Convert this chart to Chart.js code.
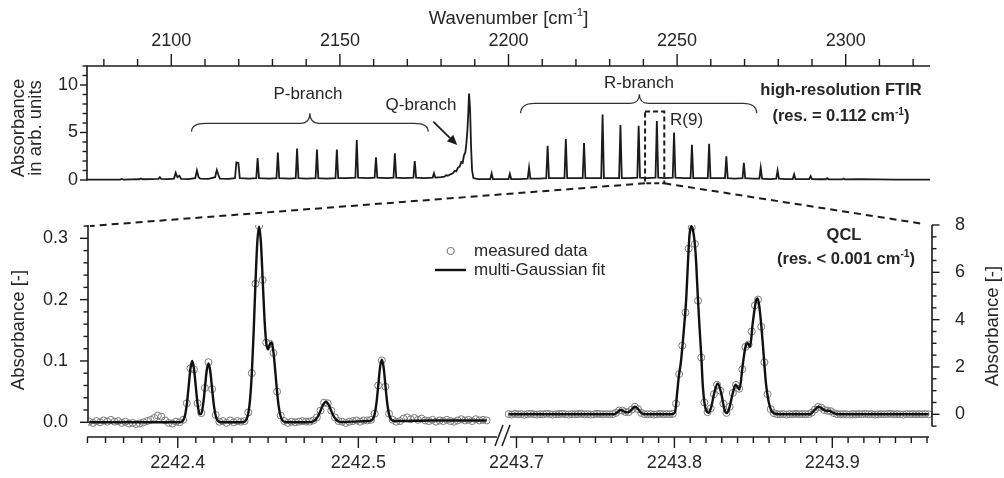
<!DOCTYPE html>
<html><head><meta charset="utf-8">
<script src="https://cdn.jsdelivr.net/npm/chart.js@4.4.1/dist/chart.umd.min.js"></script>
<style>
html,body{margin:0;padding:0;background:#fff;}
#wrap{position:relative;width:1004px;height:478px;overflow:hidden;background:#fff;}
#wrap canvas{position:absolute;left:0;top:0;}
</style></head><body>
<div id="wrap">
<canvas id="cTop" width="1004" height="478"></canvas>
<canvas id="cLeft" width="1004" height="478"></canvas>
<canvas id="cRight" width="1004" height="478"></canvas>
</div>
<script>
const FONT = "'Liberation Sans', Arial, Helvetica, sans-serif";
const INK = '#1b1b1b';
const TXT = '#262626';

// ---------- FTIR spectrum [wavenumber cm-1, absorbance arb. units] ----------
const ftirSpectrum = [
[2075,0.05],[2080,0.05],[2084.8,0.05],[2085.3,0.12],[2085.8,0.05],[2088,0.06],[2090.5,0.08],[2091,0.17],[2091.5,0.08],
[2094,0.1],[2096.2,0.12],[2096.6,0.3],[2097.0,0.12],[2099,0.1],[2100.8,0.15],[2101.3,0.75],[2101.8,0.3],[2102.4,0.45],[2102.9,0.12],
[2105,0.1],[2107.1,0.2],[2107.6,1.0],[2108.1,0.3],[2108.6,0.15],[2111,0.12],[2113.0,0.3],[2113.5,1.05],[2113.9,0.6],[2114.4,0.15],
[2117,0.12],[2118.9,0.2],[2119.3,1.85],[2119.9,1.8],[2120.3,0.2],[2123,0.15],[2125.2,0.2],[2125.6,2.3],[2126.0,0.2],
[2129,0.15],[2131.2,0.2],[2131.6,2.9],[2132.0,0.2],[2135,0.15],[2136.9,0.2],[2137.3,3.3],[2137.7,0.2],[2140,0.15],
[2142.8,0.2],[2143.2,3.2],[2143.6,0.2],[2146,0.15],[2148.7,0.2],[2149.1,3.2],[2149.5,0.2],[2152,0.2],[2154.6,0.25],[2155.0,4.2],[2155.4,0.25],
[2158,0.2],[2160.3,0.25],[2160.7,2.4],[2161.1,0.25],[2164,0.2],[2165.9,0.25],[2166.3,2.8],[2166.7,0.25],[2169,0.2],
[2171.8,0.25],[2172.2,2.0],[2172.6,0.25],[2175,0.2],[2177.5,0.25],[2177.9,0.7],[2178.3,0.25],
[2180,0.3],[2181,0.35],[2181.5,0.5],[2182,0.45],[2182.8,0.6],[2183.5,0.7],[2184,0.95],[2184.5,0.9],[2185,1.3],[2185.5,1.4],
[2186,1.9],[2186.4,1.8],[2186.8,2.6],[2187.2,2.9],[2187.5,3.8],[2187.8,5.2],[2188.0,6.5],[2188.3,9.1],[2188.6,7.5],[2188.9,3.5],[2189.2,1.0],[2189.6,0.2],
[2191,0.1],[2194.6,0.1],[2195.0,0.7],[2195.4,0.1],[2198,0.1],[2200.0,0.1],[2200.4,0.65],[2200.8,0.1],[2203,0.1],
[2205.7,0.15],[2206.1,1.3],[2206.5,0.15],[2209,0.15],[2211.2,0.2],[2211.6,3.6],[2212.0,0.2],[2214.5,0.2],
[2216.6,0.2],[2217.0,4.3],[2217.4,0.2],[2220,0.2],[2222.0,0.2],[2222.4,3.9],[2222.8,0.2],[2225,0.2],
[2227.5,0.2],[2227.9,6.9],[2228.3,0.2],[2230.5,0.2],[2232.8,0.2],[2233.2,5.8],[2233.6,0.2],[2236,0.2],
[2238.2,0.25],[2238.6,5.7],[2239.0,0.25],[2241,0.2],[2243.6,0.25],[2244.0,6.2],[2244.4,0.25],[2246.5,0.2],
[2248.7,0.25],[2249.1,5.0],[2249.5,0.25],[2252,0.2],[2254.0,0.2],[2254.4,3.7],[2254.8,0.2],[2257,0.2],
[2259.1,0.2],[2259.5,3.8],[2259.9,0.2],[2262,0.2],[2264.2,0.2],[2264.6,2.5],[2265.0,0.2],[2267,0.15],
[2269.4,0.2],[2269.8,1.8],[2270.2,0.2],[2272.5,0.15],[2274.4,0.15],[2274.8,1.3],[2275.2,0.15],[2277.5,0.1],
[2279.4,0.15],[2279.8,1.0],[2280.2,0.15],[2282.5,0.1],[2284.3,0.1],[2284.7,0.6],[2285.1,0.1],[2287.5,0.1],
[2289.2,0.1],[2289.6,0.4],[2290.0,0.1],[2292,0.08],[2294.1,0.08],[2294.5,0.2],[2294.9,0.08],[2297,0.06],
[2299.0,0.06],[2299.4,0.15],[2299.8,0.06],[2304,0.1],[2309,0.06],[2315,0.05],[2320,0.04],[2325,0.04]
];
const topMajorTicks = [2100,2150,2200,2250,2300];
const topMinorTicks = [2080,2090,2110,2120,2130,2140,2160,2170,2180,2190,2210,2220,2230,2240,2260,2270,2280,2290,2310,2320];
const topYMajor = [0,5,10];
const topYMinor = [1,2,3,4,6,7,8,9,11,12];

// annotation anchors in FTIR data units [wavenumber, absorbance]
const pBrace = [2106.0, 2141.1, 2176.2];   // left, cusp, right
const pBraceY = [5.08, 5.97, 7.02];        // end, middle, cusp
const rBrace = [2203.6, 2238.8, 2273.6];
const rBraceY = [7.02, 8.07, 9.02];
const qArrow = [[2177.7, 6.14], [2184.8, 3.68]];
const r9Box = [[2240.5, -0.35], [2246.2, 7.2]];

// ---------- QCL, left segment [wavenumber, absorbance] ----------
const qclLeftMeasured = [
[2242.351,0.001],[2242.353,-0.001],[2242.355,0.002],[2242.357,0.000],[2242.359,0.003],[2242.361,0.001],[2242.363,0.004],[2242.365,0.001],
[2242.367,0.002],[2242.369,-0.001],[2242.371,0.001],[2242.373,-0.002],[2242.375,-0.001],[2242.377,-0.003],[2242.379,-0.002],[2242.381,0.000],
[2242.383,0.002],[2242.385,0.004],[2242.387,0.007],[2242.389,0.011],[2242.391,0.009],[2242.393,0.003],[2242.395,-0.001],[2242.397,-0.002],
[2242.399,0.001],[2242.401,0.000],[2242.403,0.004],[2242.405,0.031],[2242.407,0.088],[2242.409,0.086],[2242.411,0.031],[2242.413,0.015],
[2242.415,0.056],[2242.417,0.098],[2242.419,0.054],[2242.421,0.012],[2242.423,0.001],[2242.425,0.002],[2242.427,-0.001],[2242.429,0.003],
[2242.431,0.000],[2242.433,0.002],[2242.435,0.001],[2242.437,0.002],[2242.439,0.016],[2242.441,0.080],[2242.443,0.226],[2242.445,0.320],
[2242.447,0.232],[2242.449,0.130],[2242.451,0.128],[2242.453,0.113],[2242.455,0.050],[2242.457,0.011],[2242.459,0.002],[2242.461,-0.001],
[2242.463,0.001],[2242.465,0.000],[2242.467,0.001],[2242.469,0.002],[2242.471,0.001],[2242.473,0.001],[2242.475,0.003],[2242.477,0.008],
[2242.479,0.019],[2242.481,0.032],[2242.483,0.031],[2242.485,0.019],[2242.487,0.008],[2242.489,0.002],[2242.491,0.001],[2242.493,-0.001],
[2242.495,0.001],[2242.497,0.002],[2242.499,0.003],[2242.501,0.001],[2242.503,0.003],[2242.505,0.003],[2242.507,0.004],[2242.509,0.014],
[2242.511,0.060],[2242.513,0.101],[2242.515,0.058],[2242.517,0.014],[2242.519,0.004],[2242.521,0.001],[2242.523,0.002],[2242.525,0.006],
[2242.527,0.008],[2242.529,0.005],[2242.531,0.007],[2242.533,0.004],[2242.535,0.006],[2242.537,0.003],[2242.539,0.002],[2242.541,0.004],
[2242.543,0.001],[2242.545,0.003],[2242.547,0.002],[2242.549,0.004],[2242.551,0.002],[2242.553,0.001],[2242.555,0.003],[2242.557,0.005],
[2242.559,0.003],[2242.561,0.004],[2242.563,0.002],[2242.565,0.005],[2242.567,0.003],[2242.569,0.004],[2242.571,0.003]
];
const qclLeftFit = [
[2242.351,0],[2242.380,0],[2242.400,0],[2242.401,0.0001],[2242.402,0.0007],[2242.403,0.0031],[2242.404,0.0109],[2242.405,0.0288],
[2242.406,0.0575],[2242.407,0.0871],[2242.408,0.100],[2242.409,0.0871],[2242.410,0.0576],[2242.411,0.0295],[2242.412,0.0139],[2242.413,0.0136],
[2242.414,0.0283],[2242.415,0.0553],[2242.416,0.0836],[2242.417,0.096],[2242.418,0.0836],[2242.419,0.0552],[2242.420,0.0276],[2242.421,0.0105],
[2242.422,0.003],[2242.423,0.0007],[2242.425,0],[2242.435,0],[2242.436,0.0003],[2242.437,0.0012],[2242.438,0.0045],[2242.439,0.014],
[2242.440,0.0363],[2242.441,0.0792],[2242.442,0.1456],[2242.443,0.2248],[2242.444,0.2916],[2242.445,0.319],[2242.446,0.295],[2242.447,0.234],
[2242.448,0.170],[2242.449,0.129],[2242.450,0.119],[2242.451,0.127],[2242.452,0.130],[2242.453,0.114],[2242.454,0.083],[2242.455,0.0493],
[2242.456,0.0239],[2242.457,0.0095],[2242.458,0.003],[2242.459,0.0008],[2242.461,0],[2242.472,0],[2242.473,0.0002],[2242.474,0.0006],
[2242.475,0.0014],[2242.476,0.0033],[2242.477,0.0067],[2242.478,0.0119],[2242.479,0.0186],[2242.480,0.0256],[2242.481,0.031],[2242.482,0.033],
[2242.483,0.031],[2242.484,0.0256],[2242.485,0.0186],[2242.486,0.0119],[2242.487,0.0067],[2242.488,0.0033],[2242.489,0.0014],[2242.490,0.0006],
[2242.492,0.0002],[2242.496,0.001],[2242.505,0.002],[2242.507,0.0027],[2242.508,0.0051],[2242.509,0.0129],[2242.510,0.0308],[2242.511,0.0595],
[2242.512,0.0891],[2242.513,0.102],[2242.514,0.0891],[2242.515,0.0595],[2242.516,0.0308],[2242.517,0.0129],[2242.518,0.0051],[2242.519,0.0027],
[2242.521,0.002],[2242.540,0.003],[2242.571,0.003]
];
const leftXMajor = [2242.4, 2242.5];
const leftXMinor = [2242.35,2242.36,2242.37,2242.38,2242.39,2242.41,2242.42,2242.43,2242.44,2242.45,2242.46,2242.47,2242.48,2242.49,
                    2242.51,2242.52,2242.53,2242.54,2242.55,2242.56,2242.57];
const leftYMajor = [0, 0.1, 0.2, 0.3];
const leftYMinor = [0.02,0.04,0.06,0.08,0.12,0.14,0.16,0.18,0.22,0.24,0.26,0.28,0.32];

// ---------- QCL, right segment [wavenumber, absorbance] ----------
const qclRightMeasured = [
[2243.695,0.01],[2243.697,-0.01],[2243.699,0.02],[2243.701,0.00],[2243.703,0.01],[2243.705,-0.02],[2243.707,0.01],[2243.709,0.02],
[2243.711,0.00],[2243.713,-0.01],[2243.715,0.01],[2243.717,0.00],[2243.719,0.02],[2243.721,0.01],[2243.723,-0.01],[2243.725,0.00],
[2243.727,0.01],[2243.729,0.02],[2243.731,0.00],[2243.733,-0.01],[2243.735,0.01],[2243.737,0.00],[2243.739,0.01],[2243.741,0.02],
[2243.743,0.00],[2243.745,0.01],[2243.747,-0.01],[2243.749,0.00],[2243.751,0.02],[2243.753,0.01],[2243.755,0.00],[2243.757,0.01],
[2243.759,0.00],[2243.761,0.01],[2243.763,0.06],[2243.765,0.16],[2243.767,0.16],[2243.769,0.10],[2243.771,0.09],[2243.773,0.20],
[2243.775,0.32],[2243.777,0.22],[2243.779,0.06],[2243.781,0.01],[2243.783,0.00],[2243.785,0.01],[2243.787,-0.01],[2243.789,0.00],
[2243.791,0.02],[2243.793,0.00],[2243.795,0.01],[2243.797,0.00],[2243.799,0.02],[2243.801,0.45],[2243.803,1.70],[2243.805,2.90],
[2243.807,4.30],[2243.809,7.00],[2243.811,7.90],[2243.813,7.20],[2243.815,4.80],[2243.817,2.40],[2243.819,0.50],[2243.821,0.09],
[2243.823,0.25],[2243.825,0.85],[2243.827,1.25],[2243.829,1.00],[2243.831,0.45],[2243.833,0.06],[2243.835,0.32],[2243.837,0.90],
[2243.839,1.24],[2243.841,1.08],[2243.843,1.90],[2243.845,2.85],[2243.847,2.95],[2243.849,3.50],[2243.851,4.60],[2243.853,4.85],
[2243.855,3.70],[2243.857,2.20],[2243.859,0.85],[2243.861,0.22],[2243.863,0.05],[2243.865,0.01],[2243.867,0.00],[2243.869,0.01],
[2243.871,-0.01],[2243.873,0.01],[2243.875,0.00],[2243.877,0.02],[2243.879,0.00],[2243.881,0.01],[2243.883,0.00],[2243.885,0.01],
[2243.887,0.07],[2243.889,0.20],[2243.891,0.31],[2243.893,0.28],[2243.895,0.18],[2243.897,0.15],[2243.899,0.13],[2243.901,0.05],
[2243.903,0.01],[2243.905,0.00],[2243.907,0.01],[2243.909,0.00],[2243.911,-0.01],[2243.913,0.01],[2243.915,0.00],[2243.917,0.01],
[2243.919,0.00],[2243.921,0.02],[2243.923,0.00],[2243.925,0.01],[2243.927,-0.01],[2243.929,0.00],[2243.931,0.01],[2243.933,0.00],
[2243.935,0.01],[2243.937,0.02],[2243.939,0.00],[2243.941,0.01],[2243.943,0.00],[2243.945,-0.01],[2243.947,0.01],[2243.949,0.00],
[2243.951,0.01],[2243.953,0.00],[2243.955,0.01],[2243.957,0.00],[2243.959,0.01],[2243.961,0.00]
];
const qclRightFit = [
[2243.695,0],[2243.760,0],[2243.762,0.01],[2243.764,0.10],[2243.766,0.18],[2243.768,0.12],[2243.7705,0.08],[2243.773,0.20],
[2243.775,0.32],[2243.777,0.22],[2243.779,0.06],[2243.781,0.01],[2243.784,0],[2243.798,0],[2243.7995,0.03],[2243.8005,0.12],
[2243.8016,0.80],[2243.8028,1.60],[2243.8041,2.20],[2243.8054,3.10],[2243.8064,3.90],[2243.8075,4.90],[2243.8085,6.30],[2243.8096,7.60],
[2243.8107,7.95],[2243.8117,7.80],[2243.8128,7.30],[2243.8138,6.40],[2243.8148,5.00],[2243.8159,3.70],[2243.8170,2.50],[2243.8180,1.20],
[2243.8191,0.45],[2243.8202,0.15],[2243.8216,0.06],[2243.8233,0.30],[2243.8254,0.95],[2243.8275,1.30],[2243.8296,0.90],[2243.8317,0.20],
[2243.8332,0.05],[2243.8349,0.30],[2243.8370,0.90],[2243.8387,1.25],[2243.8400,1.15],[2243.8412,1.05],[2243.8433,2.10],[2243.8450,2.85],
[2243.8464,3.00],[2243.8479,2.85],[2243.8496,3.85],[2243.8517,4.80],[2243.8528,4.90],[2243.8538,4.55],[2243.8553,3.55],[2243.8566,2.45],
[2243.8580,1.30],[2243.8595,0.60],[2243.8612,0.18],[2243.8633,0.04],[2243.8665,0],[2243.884,0],[2243.8865,0.03],[2243.889,0.20],
[2243.8913,0.32],[2243.894,0.22],[2243.896,0.15],[2243.898,0.15],[2243.900,0.08],[2243.9023,0.02],[2243.905,0],[2243.961,0]
];
const rightXMajor = [2243.7, 2243.8, 2243.9];
const rightXMinor = [2243.71,2243.72,2243.73,2243.74,2243.75,2243.76,2243.77,2243.78,2243.79,
                     2243.81,2243.82,2243.83,2243.84,2243.85,2243.86,2243.87,2243.88,2243.89,
                     2243.91,2243.92,2243.93,2243.94,2243.95,2243.96];
const rightYMajor = [0, 2, 4, 6, 8];
const rightYMinor = [-0.5,0.5,1,1.5,2.5,3,3.5,4.5,5,5.5,6.5,7,7.5];

// ---------- helpers ----------
const pts = arr => arr.map(p => ({x: p[0], y: p[1]}));
function seg(ctx, x1, y1, x2, y2) { ctx.beginPath(); ctx.moveTo(x1, y1); ctx.lineTo(x2, y2); ctx.stroke(); }
function supText(ctx, segs, x, y, size, bold, align) {
  const fnt = s => (bold ? 'bold ' : '') + s + 'px ' + FONT;
  const supSize = size * 0.62;
  let total = 0;
  const widths = segs.map(([t, sup]) => { ctx.font = fnt(sup ? supSize : size); const w = ctx.measureText(t).width; total += w; return w; });
  let cx = align === 'center' ? x - total / 2 : x;
  ctx.textAlign = 'left'; ctx.textBaseline = 'alphabetic';
  segs.forEach(([t, sup], i) => { ctx.font = fnt(sup ? supSize : size); ctx.fillText(t, cx, sup ? y - size * 0.42 : y); cx += widths[i]; });
}
function vText(ctx, t, x, y, size) {
  ctx.save(); ctx.translate(x, y); ctx.rotate(-Math.PI / 2);
  ctx.font = size + 'px ' + FONT; ctx.textAlign = 'center'; ctx.textBaseline = 'middle';
  ctx.fillText(t, 0, 0); ctx.restore();
}
function brace(ctx, x0, xc, x1, yEnd, yMid, yCusp) {
  const r = 14, rc = 9;
  ctx.beginPath();
  ctx.moveTo(x0, yEnd);
  ctx.quadraticCurveTo(x0, yMid, x0 + r, yMid);
  ctx.lineTo(xc - rc, yMid);
  ctx.quadraticCurveTo(xc, yMid, xc, yCusp);
  ctx.quadraticCurveTo(xc, yMid, xc + rc, yMid);
  ctx.lineTo(x1 - r, yMid);
  ctx.quadraticCurveTo(x1, yMid, x1, yEnd);
  ctx.stroke();
}
function arrow(ctx, x1, y1, x2, y2) {
  const ang = Math.atan2(y2 - y1, x2 - x1), L = 10, W = 4.5;
  const bx = x2 - L * Math.cos(ang), by = y2 - L * Math.sin(ang);
  seg(ctx, x1, y1, bx, by);
  ctx.beginPath();
  ctx.moveTo(x2, y2);
  ctx.lineTo(bx + W * Math.sin(ang), by - W * Math.cos(ang));
  ctx.lineTo(bx - W * Math.sin(ang), by + W * Math.cos(ang));
  ctx.closePath(); ctx.fill();
}
function axisCfg(extra) {
  return Object.assign({
    type: 'linear',
    grid: {display: false, drawTicks: false},
    border: {display: false},
    ticks: {color: TXT, font: {family: FONT, size: 18}, maxRotation: 0, autoSkip: false}
  }, extra);
}
const baseOpts = {responsive: false, animation: false, devicePixelRatio: 1, events: [],
  plugins: {legend: {display: false}, tooltip: {enabled: false}}};

// ---------- top chart (FTIR) ----------
const topDecor = {
  id: 'topDecor',
  afterDraw(chart) {
    const {ctx, chartArea: a} = chart;
    const X = v => chart.scales.x.getPixelForValue(v), Y = v => chart.scales.y.getPixelForValue(v);
    ctx.save();
    ctx.strokeStyle = INK; ctx.fillStyle = INK; ctx.lineWidth = 1.6;
    seg(ctx, a.left - 0.8, a.top, a.right, a.top);
    seg(ctx, a.left, a.top, a.left, Y(0) + 0.8);
    ctx.lineWidth = 1.4;
    topMajorTicks.forEach(v => seg(ctx, X(v), a.top, X(v), a.top - 12));
    topMinorTicks.forEach(v => seg(ctx, X(v), a.top, X(v), a.top - 7));
    topYMajor.forEach(v => seg(ctx, a.left, Y(v), a.left - 7, Y(v)));
    topYMinor.forEach(v => seg(ctx, a.left, Y(v), a.left - 4.5, Y(v)));
    // braces and arrow
    ctx.strokeStyle = '#333'; ctx.lineWidth = 1.2;
    brace(ctx, X(pBrace[0]), X(pBrace[1]), X(pBrace[2]), Y(pBraceY[0]), Y(pBraceY[1]), Y(pBraceY[2]));
    brace(ctx, X(rBrace[0]), X(rBrace[1]), X(rBrace[2]), Y(rBraceY[0]), Y(rBraceY[1]), Y(rBraceY[2]));
    ctx.strokeStyle = INK; ctx.lineWidth = 1.8;
    arrow(ctx, X(qArrow[0][0]), Y(qArrow[0][1]), X(qArrow[1][0]), Y(qArrow[1][1]));
    // zoom box around R(9)
    ctx.setLineDash([5, 3]); ctx.lineWidth = 2;
    const bx0 = X(r9Box[0][0]), bx1 = X(r9Box[1][0]), by0 = Y(r9Box[1][1]), by1 = Y(r9Box[0][1]);
    ctx.strokeRect(bx0, by0, bx1 - bx0, by1 - by0);
    ctx.setLineDash([]);
    // texts
    ctx.fillStyle = TXT;
    ctx.font = '17px ' + FONT; ctx.textAlign = 'center'; ctx.textBaseline = 'alphabetic';
    ctx.fillText('P-branch', X(2140.5), Y(8.53));
    ctx.fillText('Q-branch', X(2174.05), Y(7.37));
    ctx.fillText('R-branch', X(2238.7), Y(9.68));
    ctx.textAlign = 'left';
    ctx.fillText('R(9)', X(2247.9), Y(5.79));
    ctx.font = 'bold 16.5px ' + FONT; ctx.textAlign = 'center';
    ctx.fillText('high-resolution FTIR', X(2298.6), Y(9.0));
    supText(ctx, [['(res. = 0.112 cm', false], ['-1', true], [')', false]], X(2298.6), Y(6.16), 16.5, true, 'center');
    // axis titles
    supText(ctx, [['Wavenumber [cm', false], ['-1', true], [']', false]], (a.left + a.right) / 2, 24, 18.5, false, 'center');
    ctx.fillStyle = TXT;
    vText(ctx, 'Absorbance', 18.5, 128, 18.5);
    vText(ctx, 'in arb. units', 35.5, 128, 18.5);
    ctx.restore();
  }
};
const topChart = new Chart(document.getElementById('cTop'), {
  type: 'scatter',
  data: {datasets: [{data: pts(ftirSpectrum), showLine: true, borderColor: INK, borderWidth: 1.8,
    pointRadius: 0, tension: 0, clip: false}]},
  options: Object.assign({}, baseOpts, {
    layout: {padding: {left: 0, top: 0, right: 74, bottom: 298}},
    scales: {
      x: axisCfg({position: 'top', min: 2075, max: 2325,
        afterBuildTicks: s => { s.ticks = topMajorTicks.map(v => ({value: v})); },
        afterFit: s => { s.height = 66; },
        ticks: {color: TXT, font: {family: FONT, size: 18}, maxRotation: 0, autoSkip: false, padding: 14.5,
          callback: v => String(v)}}),
      y: axisCfg({position: 'left', min: 0, max: 12,
        afterBuildTicks: s => { s.ticks = topYMajor.map(v => ({value: v})); },
        afterFit: s => { s.width = 87; },
        ticks: {color: TXT, font: {family: FONT, size: 18}, padding: 9, callback: v => String(v)}})
    }
  }),
  plugins: [topDecor]
});

// ---------- bottom-left chart (QCL, left axis) ----------
const leftDecor = {
  id: 'leftDecor',
  afterDraw(chart) {
    const {ctx, chartArea: a} = chart;
    const X = v => chart.scales.x.getPixelForValue(v), Y = v => chart.scales.y.getPixelForValue(v);
    ctx.save();
    ctx.strokeStyle = INK; ctx.fillStyle = TXT; ctx.lineWidth = 1.6;
    seg(ctx, a.left, a.top, a.left, Y(0) + 0.8);
    seg(ctx, a.left - 0.8, a.bottom, a.right + 3, a.bottom);
    ctx.lineWidth = 1.4;
    leftYMajor.forEach(v => seg(ctx, a.left, Y(v), a.left - 8, Y(v)));
    leftYMinor.forEach(v => seg(ctx, a.left, Y(v), a.left - 4.5, Y(v)));
    leftXMajor.forEach(v => seg(ctx, X(v), a.bottom, X(v), a.bottom + 11));
    leftXMinor.forEach(v => seg(ctx, X(v), a.bottom, X(v), a.bottom + 6));
    // axis break
    ctx.lineWidth = 1.5;
    seg(ctx, a.right + 1, a.bottom + 9, a.right + 9, a.bottom - 12);
    seg(ctx, a.right + 8, a.bottom + 9, a.right + 16, a.bottom - 12);
    vText(ctx, 'Absorbance [-]', 18.5, 330, 18.5);
    // legend
    ctx.strokeStyle = '#707070'; ctx.lineWidth = 1;
    ctx.beginPath(); ctx.arc(450.7, 251, 3.6, 0, Math.PI * 2); ctx.stroke();
    ctx.strokeStyle = '#111'; ctx.lineWidth = 2.4;
    seg(ctx, 435, 270, 466, 270);
    ctx.font = '17px ' + FONT; ctx.textAlign = 'left'; ctx.textBaseline = 'middle';
    ctx.fillText('measured data', 474, 251);
    ctx.fillText('multi-Gaussian fit', 474, 270);
    ctx.restore();
  }
};
const leftChart = new Chart(document.getElementById('cLeft'), {
  type: 'scatter',
  data: {datasets: [
    {data: pts(qclLeftFit), showLine: true, borderColor: '#111', borderWidth: 2.4, pointRadius: 0,
      cubicInterpolationMode: 'monotone', order: 0},
    {data: pts(qclLeftMeasured), showLine: false, pointRadius: 3.5, borderWidth: 1,
      borderColor: '#7a7a7a', backgroundColor: 'rgba(255,255,255,0)', order: 1}
  ]},
  options: Object.assign({}, baseOpts, {
    layout: {padding: {left: 0, top: 225, right: 510, bottom: 0}},
    scales: {
      x: axisCfg({position: 'bottom', min: 2242.3503, max: 2242.5751,
        afterBuildTicks: s => { s.ticks = leftXMajor.map(v => ({value: v})); },
        afterFit: s => { s.height = 41; },
        ticks: {color: TXT, font: {family: FONT, size: 18}, maxRotation: 0, autoSkip: false, padding: 15,
          callback: v => Number(v).toFixed(1)}}),
      y: axisCfg({position: 'left', min: -0.024, max: 0.3217,
        afterBuildTicks: s => { s.ticks = leftYMajor.map(v => ({value: v})); },
        afterFit: s => { s.width = 88; },
        ticks: {color: TXT, font: {family: FONT, size: 18}, padding: 20, callback: v => Number(v).toFixed(1)}})
    }
  }),
  plugins: [leftDecor]
});

// ---------- bottom-right chart (QCL, right axis) ----------
const rightDecor = {
  id: 'rightDecor',
  afterDraw(chart) {
    const {ctx, chartArea: a} = chart;
    const X = v => chart.scales.x.getPixelForValue(v), Y = v => chart.scales.y.getPixelForValue(v);
    ctx.save();
    ctx.strokeStyle = INK; ctx.fillStyle = TXT; ctx.lineWidth = 1.6;
    seg(ctx, a.right, a.top, a.right, Y(-0.5));
    seg(ctx, a.left + 5, a.bottom, a.right - 3, a.bottom);
    ctx.lineWidth = 1.4;
    rightYMajor.forEach(v => seg(ctx, a.right, Y(v), a.right + 7.5, Y(v)));
    rightYMinor.forEach(v => seg(ctx, a.right, Y(v), a.right + 4.5, Y(v)));
    rightXMajor.forEach(v => seg(ctx, X(v), a.bottom, X(v), a.bottom + 11));
    rightXMinor.forEach(v => seg(ctx, X(v), a.bottom, X(v), a.bottom + 6));
    vText(ctx, 'Absorbance [-]', 993, 326, 18.5);
    ctx.font = 'bold 16.5px ' + FONT; ctx.textAlign = 'center'; ctx.textBaseline = 'alphabetic';
    ctx.fillText('QCL', 844, 240);
    supText(ctx, [['(res. < 0.001 cm', false], ['-1', true], [')', false]], 846, 264, 16.5, true, 'center');
    // dashed connectors from the FTIR zoom box to the QCL panel
    const tX = v => topChart.scales.x.getPixelForValue(v), tY = v => topChart.scales.y.getPixelForValue(v);
    const la = leftChart.chartArea;
    ctx.strokeStyle = INK; ctx.lineWidth = 2; ctx.setLineDash([7, 5]);
    seg(ctx, tX(r9Box[0][0]), tY(r9Box[0][1]), la.left + 2, la.top + 1);
    seg(ctx, tX(r9Box[1][0]), tY(r9Box[0][1]), a.right - 8, a.top - 1);
    ctx.setLineDash([]);
    ctx.restore();
  }
};
const rightChart = new Chart(document.getElementById('cRight'), {
  type: 'scatter',
  data: {datasets: [
    {data: pts(qclRightFit), showLine: true, borderColor: '#111', borderWidth: 2.4, pointRadius: 0,
      cubicInterpolationMode: 'monotone', order: 0},
    {data: pts(qclRightMeasured), showLine: false, pointRadius: 3.5, borderWidth: 1,
      borderColor: '#7a7a7a', backgroundColor: 'rgba(255,255,255,0)', order: 1}
  ]},
  options: Object.assign({}, baseOpts, {
    layout: {padding: {left: 505, top: 225, right: 0, bottom: 0}},
    scales: {
      x: axisCfg({position: 'bottom', min: 2243.69272, max: 2243.96314,
        afterBuildTicks: s => { s.ticks = rightXMajor.map(v => ({value: v})); },
        afterFit: s => { s.height = 41; },
        ticks: {color: TXT, font: {family: FONT, size: 18}, maxRotation: 0, autoSkip: false, padding: 15,
          callback: v => Number(v).toFixed(1)}}),
      y: axisCfg({position: 'right', min: -0.959, max: 8,
        afterBuildTicks: s => { s.ticks = rightYMajor.map(v => ({value: v})); },
        afterFit: s => { s.width = 72; },
        ticks: {color: TXT, font: {family: FONT, size: 18}, padding: 23, callback: v => String(v)}})
    }
  }),
  plugins: [rightDecor]
});
</script>
</body></html>
